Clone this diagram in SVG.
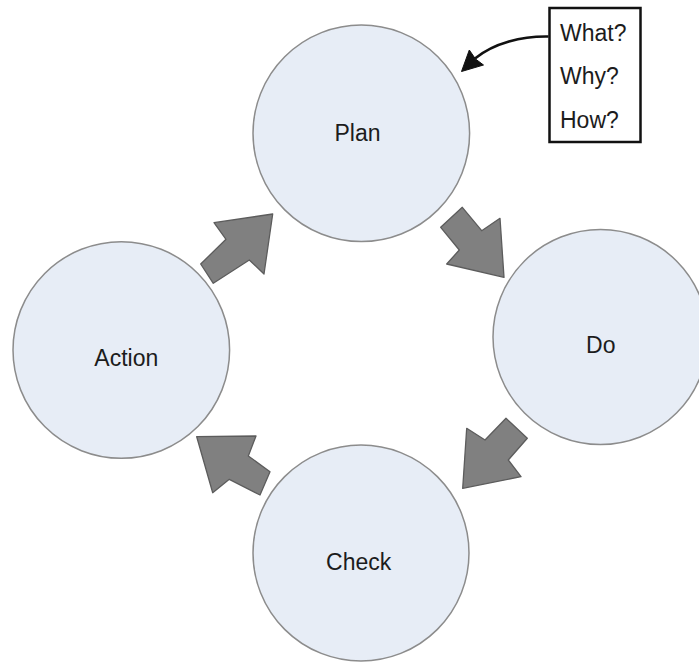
<svg xmlns="http://www.w3.org/2000/svg" width="699" height="662" viewBox="0 0 699 662">
  <style>
    .stage { fill: #e7edf6; stroke: #8c8c8c; stroke-width: 1.5; }
    .label { font-family: "Liberation Sans", Arial, sans-serif; font-size: 23px; fill: #1c1c1c; }
    .mid { text-anchor: middle; }
    .flow { fill: #808080; stroke: #5c5c5c; stroke-width: 1.3; stroke-linejoin: round; }
  </style>
  <rect width="699" height="662" fill="#ffffff"/>

  <!-- cycle stages -->
  <g id="plan">
    <circle class="stage" cx="361.3" cy="133.3" r="108.3"/>
    <text class="label mid" x="357.5" y="140.7">Plan</text>
  </g>
  <g id="do">
    <circle class="stage" cx="600.5" cy="337" r="107.5"/>
    <text class="label mid" x="600.8" y="353">Do</text>
  </g>
  <g id="check">
    <circle class="stage" cx="361" cy="553" r="108"/>
    <text class="label mid" x="358.7" y="570">Check</text>
  </g>
  <g id="action">
    <circle class="stage" cx="121.3" cy="350" r="108.3"/>
    <text class="label mid" x="126.3" y="365.7">Action</text>
  </g>

  <!-- question box -->
  <g id="questions">
    <rect x="549.5" y="8" width="91" height="134" fill="#ffffff" stroke="#111111" stroke-width="2.5"/>
    <text class="label" x="560" y="40.7">What?</text>
    <text class="label" x="560" y="84">Why?</text>
    <text class="label" x="560" y="128.3">How?</text>
  </g>

  <!-- connectors -->
  <g id="connectors">
    <!-- block arrows between stages -->
    <polygon class="flow" points="462.3,207.3 440.7,227.3 459.3,250 446.7,264 504,277.3 500,218.3 481.7,230.7"/>
    <polygon class="flow" points="506,418.3 527.3,438.3 508.3,460 521,476.7 462.7,488.3 466.7,428.3 485,440"/>
    <polygon class="flow" points="196.7,436.7 256,436 248.3,456 270,471.7 260,495 229.3,479.3 212.7,492.7"/>
    <polygon class="flow" points="272.7,214 214,222.7 226,239.3 200.7,264 213.3,283.3 249.3,260 264,274"/>
    <!-- curved pointer from questions to Plan -->
    <path d="M548.5,36.5 C522,36 494,43 475,58.5" fill="none" stroke="#111111" stroke-width="2.6"/>
    <polygon points="461.5,71.5 469.3,50 475.5,59 483.5,65" fill="#111111" stroke="#111111" stroke-width="1" stroke-linejoin="round"/>
  </g>
</svg>
